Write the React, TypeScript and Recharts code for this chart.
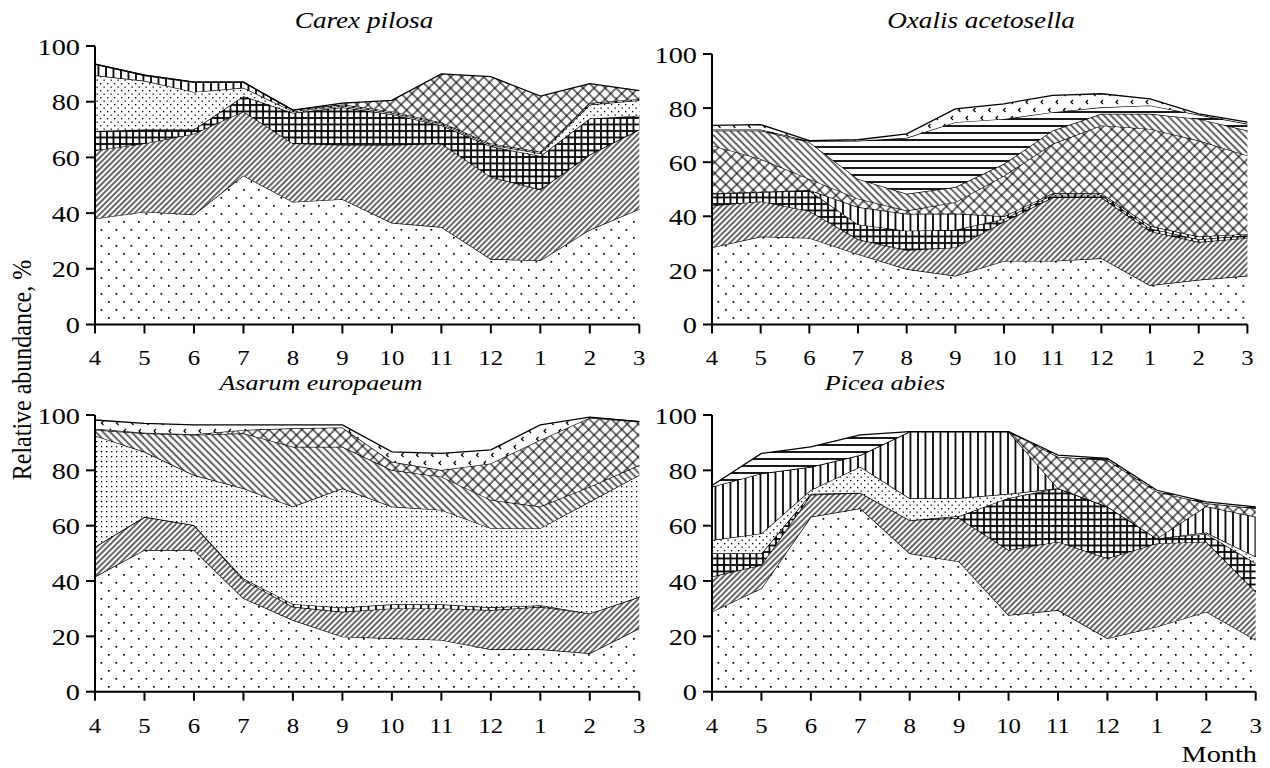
import React from "react";
import { AreaChart, Area, XAxis, YAxis } from "recharts";

const months = ["4", "5", "6", "7", "8", "9", "10", "11", "12", "1", "2", "3"];
const yTicks = [0, 20, 40, 60, 80, 100];

// upper edge of each band, %, bottom band first
const carexSparse = [38, 40.5, 39.5, 53.5, 44, 45, 36.5, 35, 23.5, 23, 34, 41.5];
const carexDiag = [62.5, 65, 68.5, 76.5, 65, 64.5, 64.5, 65, 53, 48.5, 61, 70];
const carexGrid = [69.5, 70, 70, 82, 76, 78, 75.5, 71.5, 64, 60.5, 74, 75];
const carexDots = [89.5, 87.5, 83.5, 85, 76.5, 78.5, 76, 72, 64.5, 61.5, 79, 80.5];
const carexBars = [93.5, 89.5, 87, 87, 77, 79, 76.5, 72.5, 65, 62, 79.5, 81];
const carexCross = [93.5, 89.5, 87, 87, 77, 79.5, 80.5, 90, 89, 82, 86.5, 84];

const oxSparse = [28.5, 32.5, 32, 26, 20.5, 18, 23.5, 23.5, 24.5, 14.5, 16.5, 18];
const oxDiag = [44, 45.5, 42, 31.5, 27.5, 28.5, 38, 47, 47, 34.5, 30.5, 32];
const oxGrid = [48.3, 48.9, 49.5, 37, 34.7, 35, 39, 48, 48, 35.5, 31.5, 33];
const oxBars = [48.5, 49.1, 49.7, 43.4, 40.9, 41, 40, 48.5, 48.5, 36.5, 32.5, 33.5];
const oxCross = [66.2, 61.2, 53.8, 46.5, 42.1, 45.2, 55, 66.8, 73.6, 72.3, 68, 62.5];
const oxBack = [71.7, 71.7, 67.4, 53.8, 48.3, 50.8, 59.4, 71.7, 77.9, 77.9, 76, 71.7];
const oxLines = [72.1, 72.1, 67.8, 67.9, 69, 74.8, 76, 78.5, 80.3, 81, 77.5, 74.2];
const oxTicks = [73.6, 73.9, 68, 68.3, 70.5, 79.7, 81.6, 84.7, 85.3, 83.4, 77.9, 74.8];

const asSparse = [41.6, 51.2, 51.2, 33.8, 25.9, 19.9, 19.3, 18.7, 15.3, 15.3, 13.9, 22.9];
const asDiag = [52.4, 63.2, 60.2, 40.4, 30.7, 28.9, 30.1, 30.1, 29.5, 30.7, 28.3, 34.3];
const asBars = [52.4, 63.2, 60.2, 40.9, 31.7, 30.4, 31.6, 31.6, 30.5, 31.2, 28.3, 34.3];
const asDots = [92.5, 86.7, 78.3, 73.5, 66.9, 73.5, 66.9, 65.7, 59.1, 59.1, 68.7, 78.3];
const asBack = [94.6, 93.4, 92.8, 93.4, 88.5, 88.5, 80.1, 77.7, 69.3, 66.9, 74.1, 81.9];
const asCross = [95, 93.6, 93, 94.6, 95.2, 95.5, 83.1, 80.1, 82.5, 91, 99, 97.6];
const asTicks = [98.2, 97, 96.4, 96.4, 96.4, 96.4, 86.7, 86.1, 87.4, 96.4, 99.2, 97.6];

const piSparse = [28.9, 37.4, 63.2, 66.3, 50, 47, 27.7, 29.5, 19.3, 23.5, 28.9, 18.7];
const piDiag = [41.6, 45.8, 71.1, 71.9, 62, 62.7, 51.2, 54.2, 48.2, 53.6, 54.2, 36.1];
const piGrid = [50, 50, 71.5, 71.9, 62, 63.5, 70, 73.5, 66.9, 55.4, 57, 46.4];
const piDots = [54.8, 57.2, 72.9, 81.3, 69.9, 70, 71.5, 73.5, 66.9, 55.4, 57.5, 48.8];
const piBars = [74.1, 78.9, 81.3, 85.5, 94, 94, 94, 73.5, 66.9, 55.4, 67, 63.2];
const piCross = [74.1, 78.9, 81.3, 85.5, 94, 94, 94, 84.9, 83.7, 72.3, 68.1, 66.3];
const piLines = [74.5, 86.1, 88.5, 92.8, 94, 94, 94, 85.5, 84.3, 72.8, 68.6, 66.8];

const FONT = '"Liberation Serif", "Times New Roman", serif';
const SX = 1.18; // the figure's lettering is a little wider than plain Times

type Layer = { key: string; top: number[]; fill: string };

const XTick = ({ x, y, payload }: any) => (
  <text
    transform={`translate(${x},${y}) scale(${SX},1)`}
    textAnchor="middle"
    dy="0.71em"
    fontSize={21}
    style={{ fontFamily: FONT }}
    fill="#000"
  >
    {payload.value}
  </text>
);

const YTick = ({ x, y, payload }: any) => (
  <text
    transform={`translate(${x},${y}) scale(${SX},1)`}
    textAnchor="end"
    dy="0.36em"
    fontSize={24}
    style={{ fontFamily: FONT }}
    fill="#000"
  >
    {payload.value}
  </text>
);

function Panel({
  left,
  top,
  w,
  h,
  layers,
}: {
  left: number;
  top: number;
  w: number;
  h: number;
  layers: Layer[];
}) {
  const data = months.map((m, i) => {
    const row: Record<string, string | number> = { month: m };
    let prev = 0;
    layers.forEach((l) => {
      row[l.key] = Math.max(0, l.top[i] - prev);
      prev = Math.max(prev, l.top[i]);
    });
    return row;
  });
  const yw = 80;
  const xh = 50;
  const mt = 20;
  const mr = 10;
  const axis = { stroke: "#000", strokeWidth: 2 };
  return (
    <div style={{ position: "absolute", left: left - yw, top: top - mt }}>
      <AreaChart
        width={yw + w + mr}
        height={mt + h + xh}
        data={data}
        margin={{ top: mt, right: mr, bottom: 0, left: 0 }}
      >
        {layers.map((l) => (
          <Area
            key={l.key}
            type="linear"
            dataKey={l.key}
            stackId="s"
            stroke="#000"
            strokeWidth={1.3}
            fill={`url(#${l.fill})`}
            fillOpacity={1}
            dot={false}
            activeDot={false}
            isAnimationActive={false}
          />
        ))}
        <XAxis
          dataKey="month"
          interval={0}
          height={xh}
          tickSize={9}
          tickMargin={17}
          axisLine={axis}
          tickLine={axis}
          tick={<XTick />}
        />
        <XAxis
          xAxisId="top"
          dataKey="month"
          orientation="top"
          height={0}
          tick={false}
          tickLine={false}
          axisLine={axis}
        />
        <YAxis
          type="number"
          domain={[0, 100]}
          ticks={yTicks}
          width={yw}
          tickSize={9}
          tickMargin={6}
          axisLine={axis}
          tickLine={axis}
          tick={<YTick />}
        />
        <YAxis
          yAxisId="right"
          orientation="right"
          type="number"
          domain={[0, 100]}
          width={0}
          tick={false}
          tickLine={false}
          axisLine={axis}
        />
      </AreaChart>
    </div>
  );
}

function Patterns() {
  return (
    <svg width={0} height={0} style={{ position: "absolute" }}>
      <defs>
        <pattern id="pSparse" width={15} height={16} patternUnits="userSpaceOnUse">
          <rect width={15} height={16} fill="#fff" />
          <rect x={3} y={3} width={1.7} height={1.7} fill="#000" />
          <rect x={10.5} y={11} width={1.7} height={1.7} fill="#000" />
        </pattern>
        <pattern id="pDots" width={7} height={7} patternUnits="userSpaceOnUse">
          <rect width={7} height={7} fill="#fff" />
          <rect x={1} y={1} width={1.3} height={1.3} fill="#000" />
          <rect x={4.5} y={4.5} width={1.3} height={1.3} fill="#000" />
        </pattern>
        <pattern id="pFine" width={5} height={5} patternUnits="userSpaceOnUse">
          <rect width={5} height={5} fill="#fff" />
          <rect x={1} y={1} width={1.3} height={1.3} fill="#000" />
        </pattern>
        <pattern id="pDiag" width={4} height={4} patternUnits="userSpaceOnUse" patternTransform="rotate(45)">
          <rect width={4} height={4} fill="#fff" />
          <line x1={1} y1={0} x2={1} y2={4} stroke="#000" strokeWidth={1.2} />
        </pattern>
        <pattern id="pBack" width={5} height={5} patternUnits="userSpaceOnUse" patternTransform="rotate(-45)">
          <rect width={5} height={5} fill="#fff" />
          <line x1={1} y1={0} x2={1} y2={5} stroke="#000" strokeWidth={1.2} />
        </pattern>
        <pattern id="pGrid" width={6.5} height={6.5} patternUnits="userSpaceOnUse">
          <rect width={6.5} height={6.5} fill="#fff" />
          <line x1={1} y1={0} x2={1} y2={6.5} stroke="#000" strokeWidth={1.8} />
          <line x1={0} y1={1} x2={6.5} y2={1} stroke="#000" strokeWidth={1.8} />
        </pattern>
        <pattern id="pCross" width={7.8} height={7.8} patternUnits="userSpaceOnUse" patternTransform="rotate(45)">
          <rect width={7.8} height={7.8} fill="#fff" />
          <line x1={1} y1={0} x2={1} y2={7.8} stroke="#000" strokeWidth={1.1} />
          <line x1={0} y1={1} x2={7.8} y2={1} stroke="#000" strokeWidth={1.1} />
        </pattern>
        <pattern id="pBars" width={7.5} height={7.5} patternUnits="userSpaceOnUse">
          <rect width={7.5} height={7.5} fill="#fff" />
          <line x1={1} y1={0} x2={1} y2={7.5} stroke="#000" strokeWidth={1.8} />
        </pattern>
        <pattern id="pLines" width={7} height={7} patternUnits="userSpaceOnUse">
          <rect width={7} height={7} fill="#fff" />
          <line x1={0} y1={1} x2={7} y2={1} stroke="#000" strokeWidth={1.8} />
        </pattern>
        <pattern id="pTicks" width={15} height={16} patternUnits="userSpaceOnUse">
          <rect width={15} height={16} fill="#fff" />
          <path d="M6 2 L4 4 L6 6" fill="none" stroke="#000" strokeWidth={1.2} />
          <path d="M13.5 10 L11.5 12 L13.5 14" fill="none" stroke="#000" strokeWidth={1.2} />
        </pattern>
      </defs>
    </svg>
  );
}

const carexLayers: Layer[] = [
  { key: "sparse", top: carexSparse, fill: "pSparse" },
  { key: "diag", top: carexDiag, fill: "pDiag" },
  { key: "grid", top: carexGrid, fill: "pGrid" },
  { key: "dots", top: carexDots, fill: "pDots" },
  { key: "bars", top: carexBars, fill: "pBars" },
  { key: "cross", top: carexCross, fill: "pCross" },
];

const oxLayers: Layer[] = [
  { key: "sparse", top: oxSparse, fill: "pSparse" },
  { key: "diag", top: oxDiag, fill: "pDiag" },
  { key: "grid", top: oxGrid, fill: "pGrid" },
  { key: "bars", top: oxBars, fill: "pBars" },
  { key: "cross", top: oxCross, fill: "pCross" },
  { key: "back", top: oxBack, fill: "pBack" },
  { key: "lines", top: oxLines, fill: "pLines" },
  { key: "ticks", top: oxTicks, fill: "pTicks" },
];

const asLayers: Layer[] = [
  { key: "sparse", top: asSparse, fill: "pSparse" },
  { key: "diag", top: asDiag, fill: "pDiag" },
  { key: "bars", top: asBars, fill: "pBars" },
  { key: "dots", top: asDots, fill: "pFine" },
  { key: "back", top: asBack, fill: "pBack" },
  { key: "cross", top: asCross, fill: "pCross" },
  { key: "ticks", top: asTicks, fill: "pTicks" },
];

const piLayers: Layer[] = [
  { key: "sparse", top: piSparse, fill: "pSparse" },
  { key: "diag", top: piDiag, fill: "pDiag" },
  { key: "grid", top: piGrid, fill: "pGrid" },
  { key: "dots", top: piDots, fill: "pDots" },
  { key: "bars", top: piBars, fill: "pBars" },
  { key: "cross", top: piCross, fill: "pCross" },
  { key: "lines", top: piLines, fill: "pLines" },
];

const labelStyle = { fontFamily: FONT, fill: "#000" };

export default function App() {
  return (
    <div
      style={{
        position: "absolute",
        left: 0,
        top: 0,
        width: 1270,
        height: 768,
        background: "#fff",
        overflow: "hidden",
      }}
    >
      <Patterns />
      <Panel left={95} top={45.5} w={544.3} h={278.5} layers={carexLayers} />
      <Panel left={712.3} top={53.5} w={535.4} h={270.5} layers={oxLayers} />
      <Panel left={95} top={415} w={544.3} h={276.7} layers={asLayers} />
      <Panel left={712.3} top={415} w={543.7} h={276.7} layers={piLayers} />
      <svg
        width={1270}
        height={768}
        style={{ position: "absolute", left: 0, top: 0, pointerEvents: "none" }}
      >
        <g style={labelStyle} fontSize={23} fontStyle="italic" textAnchor="middle">
          <text transform={`translate(364,28) scale(${SX},1)`}>Carex pilosa</text>
          <text transform={`translate(981,28) scale(${SX},1)`}>Oxalis acetosella</text>
        </g>
        <g style={labelStyle} fontSize={22} fontStyle="italic" textAnchor="middle">
          <text transform={`translate(321,390) scale(${SX},1)`}>Asarum europaeum</text>
          <text transform={`translate(885,390) scale(${SX},1)`}>Picea abies</text>
        </g>
        <text
          transform={`translate(31,370) rotate(-90) scale(1,${SX})`}
          textAnchor="middle"
          fontSize={24}
          style={labelStyle}
        >
          Relative abundance, %
        </text>
        <text
          transform={`translate(1257,762) scale(${SX},1)`}
          textAnchor="end"
          fontSize={24}
          style={labelStyle}
        >
          Month
        </text>
      </svg>
    </div>
  );
}
